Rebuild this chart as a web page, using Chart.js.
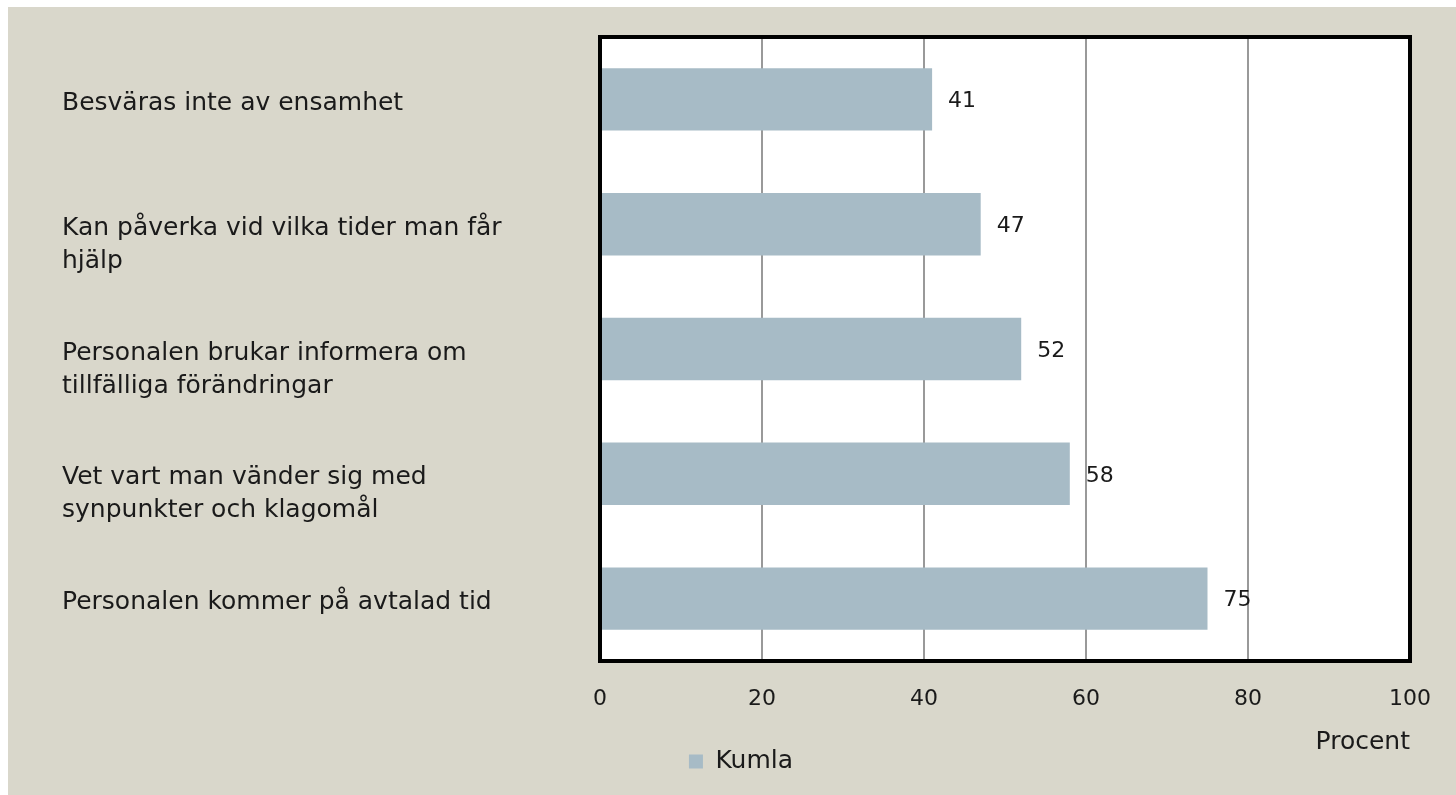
<!DOCTYPE html>
<html><head><meta charset="utf-8">
<script src="https://cdn.jsdelivr.net/npm/chart.js@4/dist/chart.umd.min.js"></script>
<style>html,body{margin:0;padding:0;background:#fff;}#wrap{width:1456px;height:795px;}</style>
</head><body><div id="wrap"><canvas id="c" width="1456" height="795"></canvas></div>
<script>
const categories = [
  "Besväras inte av ensamhet",
  ["Kan påverka vid vilka tider man får", "hjälp"],
  ["Personalen brukar informera om", "tillfälliga förändringar"],
  ["Vet vart man vänder sig med", "synpunkter och klagomål"],
  "Personalen kommer på avtalad tid"
];
const seriesName = "Kumla";
const values = [41, 47, 52, 58, 75];
const xTicks = [0, 20, 40, 60, 80, 100];
const xTitle = "Procent";

const FONT = "DejaVu Sans";
const TEXT = "#1a1a1a";
const BAR = "#a7bbc6";

const bgPlugin = {
  id: 'bg',
  beforeDraw(chart) {
    const ctx = chart.ctx, a = chart.chartArea;
    ctx.save();
    ctx.fillStyle = '#ffffff';
    ctx.fillRect(0, 0, chart.width, chart.height);
    ctx.fillStyle = '#d9d7cb';
    ctx.fillRect(8, 7, chart.width - 8, chart.height - 7);
    ctx.fillStyle = '#ffffff';
    ctx.fillRect(a.left, a.top, a.right - a.left, a.bottom - a.top);
    ctx.restore();
  },
  afterDatasetsDraw(chart) {
    const ctx = chart.ctx;
    const meta = chart.getDatasetMeta(0);
    ctx.save();
    ctx.font = "22px '" + FONT + "'";
    ctx.fillStyle = TEXT;
    ctx.textAlign = 'left';
    ctx.textBaseline = 'middle';
    meta.data.forEach((el, i) => {
      ctx.fillText(String(values[i]), el.x + 16, el.y + 2);
    });
    ctx.restore();
  },
  afterDraw(chart) {
    const ctx = chart.ctx, a = chart.chartArea;
    ctx.save();
    ctx.strokeStyle = '#000';
    ctx.lineWidth = 4;
    ctx.strokeRect(a.left, a.top, a.right - a.left, a.bottom - a.top);
    ctx.restore();
  }
};

new Chart(document.getElementById('c'), {
  type: 'bar',
  data: {
    labels: categories,
    datasets: [{
      label: seriesName,
      data: values,
      backgroundColor: BAR,
      borderWidth: 0,
      barPercentage: 0.5,
      categoryPercentage: 1.0
    }]
  },
  options: {
    indexAxis: 'y',
    responsive: false,
    animation: false,
    devicePixelRatio: 1,
    layout: { padding: { left: 62, right: 36, top: 37, bottom: 11 } },
    plugins: {
      legend: {
        position: 'bottom',
        labels: {
          font: { family: FONT, size: 25 },
          color: TEXT,
          boxWidth: 14,
          boxHeight: 14,
          padding: 6
        }
      },
      tooltip: { enabled: false }
    },
    scales: {
      y: {
        grid: { display: false },
        border: { display: false },
        ticks: {
          crossAlign: 'far',
          color: TEXT,
          labelOffset: 4,
          font: { family: FONT, size: 25, lineHeight: 1.32 },
          callback(value, index) {
            const l = categories[index];
            return Array.isArray(l) ? [''].concat(l) : l;
          }
        },
        afterFit(scale) { scale.width = 538; }
      },
      x: {
        min: 0, max: 100,
        afterBuildTicks(scale) { scale.ticks = xTicks.map(v => ({ value: v })); },
        grid: { color: '#999999', lineWidth: 2, drawTicks: false },
        border: { display: false },
        ticks: {
          color: TEXT,
          padding: 25,
          font: { family: FONT, size: 22 }
        },
        title: {
          display: true,
          text: xTitle,
          align: 'end',
          color: TEXT,
          font: { family: FONT, size: 25 },
          padding: { top: 0, bottom: -14 }
        },
        afterFit(scale) { scale.height = 82; }
      }
    }
  },
  plugins: [bgPlugin]
});
</script></body></html>
